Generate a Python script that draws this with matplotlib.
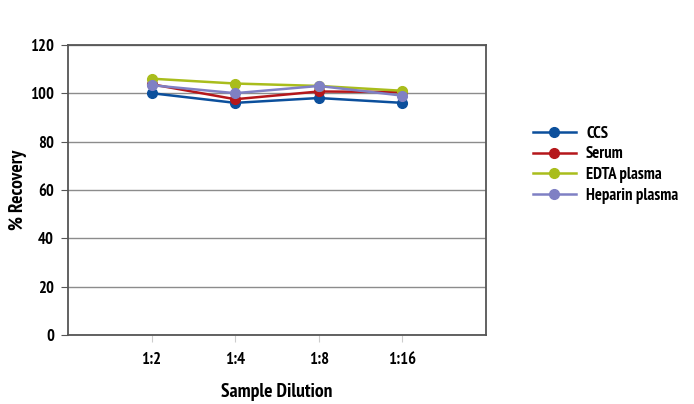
import matplotlib.pyplot as plt

# Data
dilutions = ['1:2', '1:4', '1:8', '1:16']
ccs = [100, 96, 98, 96]
serum = [103.7, 97.5, 100.7, 100.5]
edta_plasma = [106, 104, 103, 101]
heparin_plasma = [103.3, 100, 103, 99]

series_names = ['CCS', 'Serum', 'EDTA plasma', 'Heparin plasma']
series_colors = ['#0b4f9c', '#b5171b', '#a9bd1c', '#7f80c4']
yticks = [0, 20, 40, 60, 80, 100, 120]

# narrow bold font, close to the condensed face of the original
plt.rcParams['font.family'] = ['PT Sans Narrow', 'Roboto Condensed', 'DejaVu Sans']
plt.rcParams['font.weight'] = 'bold'

fig = plt.figure(figsize=(6.94, 4.04), dpi=100)
ax = fig.add_axes([0.098, 0.171, 0.602, 0.718])

xs = list(range(1, len(dilutions) + 1))
for name, vals, col in zip(series_names,
                           [ccs, serum, edta_plasma, heparin_plasma],
                           series_colors):
    ax.plot(xs, vals, color=col, marker='o', markersize=7, linewidth=1.8,
            label=name, zorder=3)

ax.set_xlim(0, 5)
ax.set_ylim(0, 120)
ax.set_yticks(yticks)
ax.set_xticks(xs)
ax.set_xticklabels(dilutions)
ax.yaxis.grid(True, color='#8c8c8c', linewidth=1)
ax.set_axisbelow(True)

for sp in ax.spines.values():
    sp.set_color('#555555')
    sp.set_linewidth(1.3)

ax.tick_params(axis='y', direction='out', length=5, color='#555555',
               labelsize=12, pad=5)
ax.tick_params(axis='x', direction='out', length=5, color='#cccccc',
               labelsize=12, pad=7)

ax.set_xlabel('Sample Dilution', fontsize=14, fontweight='bold', labelpad=11)
ax.set_ylabel('% Recovery', fontsize=14, fontweight='bold', labelpad=2)

leg = fig.legend(loc='center left', bbox_to_anchor=(0.758, 0.592),
                 borderaxespad=0, frameon=False, fontsize=12,
                 handlelength=2.6, labelspacing=0.28, handletextpad=0.6)

fig.savefig('out.png', dpi=100)
